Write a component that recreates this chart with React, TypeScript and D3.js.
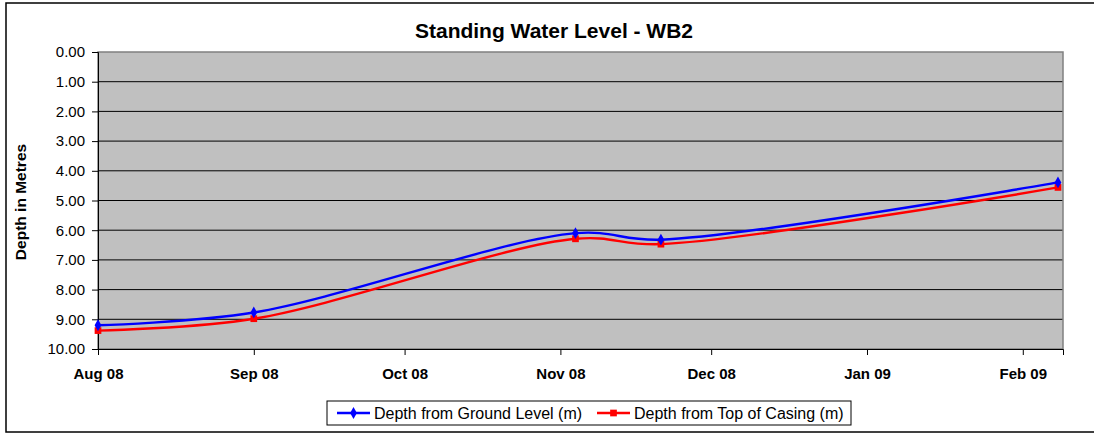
import React, { useEffect, useRef } from "react";
import * as d3 from "d3";

// readings (depth below datum, metres)
const sampleDates = ["2008-08-01", "2008-09-01", "2008-11-04", "2008-11-21", "2009-02-08"];
const groundLevel = [9.2, 8.77, 6.1, 6.32, 4.39];
const topOfCasing = [9.38, 8.98, 6.29, 6.47, 4.56];

const yTicks = [0, 1, 2, 3, 4, 5, 6, 7, 8, 9, 10];
const monthTicks = ["2008-08-01", "2008-09-01", "2008-10-01", "2008-11-01", "2008-12-01", "2009-01-01", "2009-02-01"];

const seriesNames = ["Depth from Ground Level (m)", "Depth from Top of Casing (m)"];
const seriesColors = ["#0000FF", "#FF0000"];

const W = 1094;
const H = 434;
const margin = { top: 52, right: 31, bottom: 85, left: 98 };

export default function App() {
  const svgRef = useRef<SVGSVGElement>(null);

  useEffect(() => {
    const svg = d3.select(svgRef.current);
    svg.selectAll("*").remove();

    const parse = d3.timeParse("%Y-%m-%d");
    const dates = sampleDates.map((d) => parse(d) as Date);
    const width = W - margin.left - margin.right;
    const height = H - margin.top - margin.bottom;

    const x = d3
      .scaleTime()
      .domain([parse("2008-08-01") as Date, parse("2009-02-09") as Date])
      .range([0, width]);
    const y = d3.scaleLinear().domain([0, 10]).range([0, height]);

    // outer chart frame
    svg
      .append("rect")
      .attr("x", 6)
      .attr("y", 3)
      .attr("width", W + 20)
      .attr("height", 429)
      .attr("fill", "#fff")
      .attr("stroke", "#000")
      .attr("stroke-width", 1.5);

    // title
    svg
      .append("text")
      .attr("x", 554)
      .attr("y", 38)
      .attr("text-anchor", "middle")
      .attr("font-family", "Liberation Sans, Arial, sans-serif")
      .attr("font-weight", "bold")
      .attr("font-size", 21)
      .text("Standing Water Level - WB2");

    const g = svg.append("g").attr("transform", `translate(${margin.left},${margin.top})`);

    // plot area
    g.append("rect")
      .attr("width", width)
      .attr("height", height)
      .attr("fill", "#C0C0C0");

    // gridlines
    g.selectAll(".grid")
      .data(yTicks.slice(1, -1))
      .enter()
      .append("line")
      .attr("x1", 0)
      .attr("x2", width)
      .attr("y1", (d) => y(d))
      .attr("y2", (d) => y(d))
      .attr("stroke", "#000")
      .attr("stroke-width", 1);

    g.append("rect")
      .attr("width", width)
      .attr("height", height)
      .attr("fill", "none")
      .attr("stroke", "#808080")
      .attr("stroke-width", 1.5);

    // y axis
    const yAxis = g
      .append("g")
      .call(
        d3
          .axisLeft(y)
          .tickValues(yTicks)
          .tickSize(6)
          .tickPadding(7)
          .tickFormat((d) => d3.format(".2f")(d as number))
      );
    yAxis.select(".domain").attr("stroke", "#000");
    yAxis
      .selectAll("text")
      .attr("font-family", "Liberation Sans, Arial, sans-serif")
      .attr("font-size", 15)
      .attr("fill", "#000");

    // x axis
    const xAxis = g
      .append("g")
      .attr("transform", `translate(0,${height})`)
      .call(
        d3
          .axisBottom(x)
          .tickValues(monthTicks.map((d) => parse(d) as Date))
          .tickSize(6)
          .tickPadding(13)
          .tickFormat((d) => d3.timeFormat("%b %y")(d as Date))
      );
    xAxis.select(".domain").attr("stroke", "#000");
    xAxis
      .selectAll("text")
      .attr("font-family", "Liberation Sans, Arial, sans-serif")
      .attr("font-weight", "bold")
      .attr("font-size", 15)
      .attr("fill", "#000");

    // y axis title
    svg
      .append("text")
      .attr("transform", "translate(26,202) rotate(-90)")
      .attr("text-anchor", "middle")
      .attr("font-family", "Liberation Sans, Arial, sans-serif")
      .attr("font-weight", "bold")
      .attr("font-size", 15.5)
      .text("Depth in Metres");

    // series
    const series = [groundLevel, topOfCasing];
    const symbols = [d3.symbol().type(d3.symbolDiamond).size(40), d3.symbol().type(d3.symbolSquare).size(45)];
    const line = d3
      .line<number>()
      .x((_, i) => x(dates[i]))
      .y((d) => y(d))
      .curve(d3.curveCatmullRom.alpha(0.5));

    [1, 0].forEach((s) => {
      g.append("path")
        .datum(series[s])
        .attr("d", line)
        .attr("fill", "none")
        .attr("stroke", seriesColors[s])
        .attr("stroke-width", 2.4);
      g.selectAll(`.mk${s}`)
        .data(series[s])
        .enter()
        .append("path")
        .attr("d", symbols[s]() as string)
        .attr("transform", (d, i) => `translate(${x(dates[i])},${y(d)})`)
        .attr("fill", seriesColors[s]);
    });

    // legend
    const lg = svg.append("g");
    lg.append("rect")
      .attr("x", 327)
      .attr("y", 401)
      .attr("width", 524)
      .attr("height", 24)
      .attr("fill", "#fff")
      .attr("stroke", "#000")
      .attr("stroke-width", 1);
    const itemX = [337, 597];
    seriesNames.forEach((name, s) => {
      lg.append("line")
        .attr("x1", itemX[s])
        .attr("x2", itemX[s] + 33)
        .attr("y1", 413)
        .attr("y2", 413)
        .attr("stroke", seriesColors[s])
        .attr("stroke-width", 2.4);
      lg.append("path")
        .attr("d", symbols[s]() as string)
        .attr("transform", `translate(${itemX[s] + 16.5},413)`)
        .attr("fill", seriesColors[s]);
      lg.append("text")
        .attr("x", itemX[s] + 37)
        .attr("y", 418.5)
        .attr("font-family", "Liberation Sans, Arial, sans-serif")
        .attr("font-size", 16)
        .text(name);
    });
  }, []);

  return (
    <svg
      ref={svgRef}
      width={W}
      height={H}
      style={{ position: "absolute", left: 0, top: 0, background: "#fff" }}
    ></svg>
  );
}
